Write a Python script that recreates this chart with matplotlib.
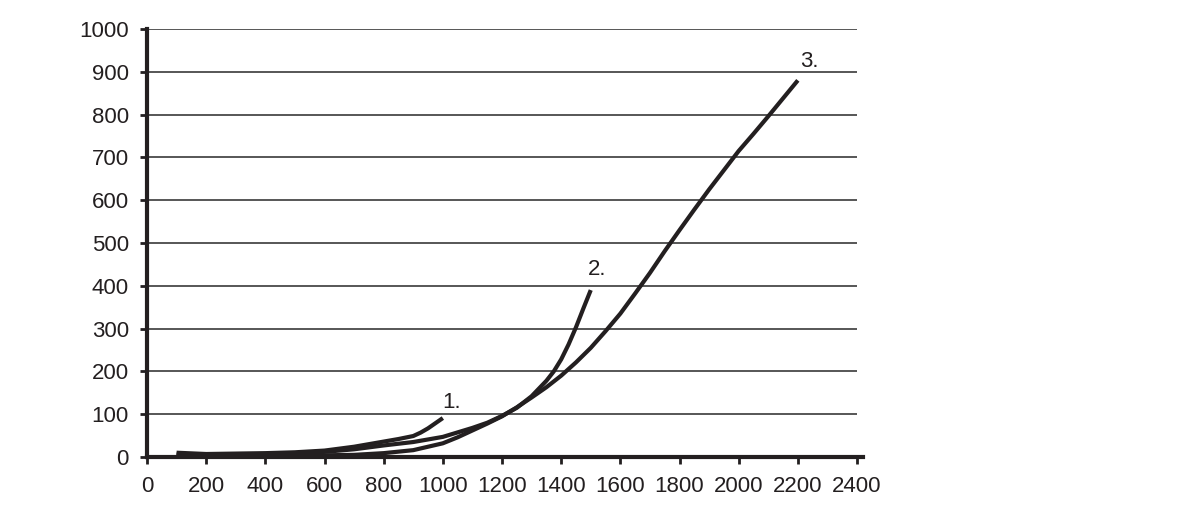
import matplotlib
matplotlib.use("Agg")
import matplotlib.pyplot as plt

plt.rcParams['font.family'] = ['Liberation Sans', 'DejaVu Sans']

x1 = [100, 200, 300, 400, 500, 600, 700, 800, 850, 900, 925, 950, 975, 1000]
y1 = [10, 7, 8, 9, 11, 15, 24, 36, 42, 49, 57, 67, 79, 91]

x2 = [100, 200, 300, 400, 500, 600, 700, 800, 900, 1000, 1100, 1150, 1200, 1250, 1300, 1350, 1375, 1400, 1425, 1450, 1475, 1500]
y2 = [6, 5, 6, 7, 9, 12, 18, 27, 35, 47, 68, 80, 96, 115, 142, 178, 200, 228, 263, 303, 347, 390]

x3 = [100, 200, 300, 400, 500, 600, 700, 800, 900, 1000, 1050, 1100, 1150, 1200, 1250, 1300, 1350, 1400, 1450, 1500, 1550,
      1600, 1650, 1700, 1750, 1800, 1850, 1900, 1950, 2000, 2050, 2100, 2150, 2200]
y3 = [3, 3, 3, 3, 3, 4, 5, 9, 16, 32, 46, 62, 78, 95, 116, 139, 163, 190, 221, 255, 294,
      335, 382, 430, 481, 530, 578, 625, 670, 715, 755, 796, 838, 880]

labels = ["1.", "2.", "3."]
label_pos = [(1030, 128), (1520, 437), (2240, 923)]

xticks = list(range(0, 2401, 200))
yticks = list(range(0, 1001, 100))

fig = plt.figure(figsize=(11.99, 5.12), dpi=100)
ax = fig.add_axes([147/1199, 1-457/512, (857-147)/1199, (457-29)/512])

lc = '#231f20'
for y in yticks[1:]:
    ax.axhline(y, color='#3a3a3a', lw=1.2, zorder=1)

for xs, ys in [(x1, y1), (x2, y2), (x3, y3)]:
    ax.plot(xs, ys, color=lc, lw=3.0, solid_capstyle='butt', solid_joinstyle='round', zorder=3)

for lab, (lx, ly) in zip(labels, label_pos):
    ax.text(lx, ly, lab, fontsize=16, ha='center', va='center', color=lc)

ax.set_xlim(0, 2400)
ax.set_ylim(0, 1000)
ax.set_xticks(xticks)
ax.set_yticks(yticks)
ax.tick_params(axis='both', labelsize=16, colors=lc, length=5, width=2, direction='out')
ax.tick_params(axis='y', pad=8)
ax.tick_params(axis='x', pad=9)
for s in ['top', 'right']:
    ax.spines[s].set_visible(False)
for s in ['left', 'bottom']:
    ax.spines[s].set_linewidth(3)
    ax.spines[s].set_color(lc)
ax.spines['bottom'].set_bounds(0, 2420)
ax.spines['bottom'].set_clip_on(False)

fig.savefig('out.png', dpi=100)
